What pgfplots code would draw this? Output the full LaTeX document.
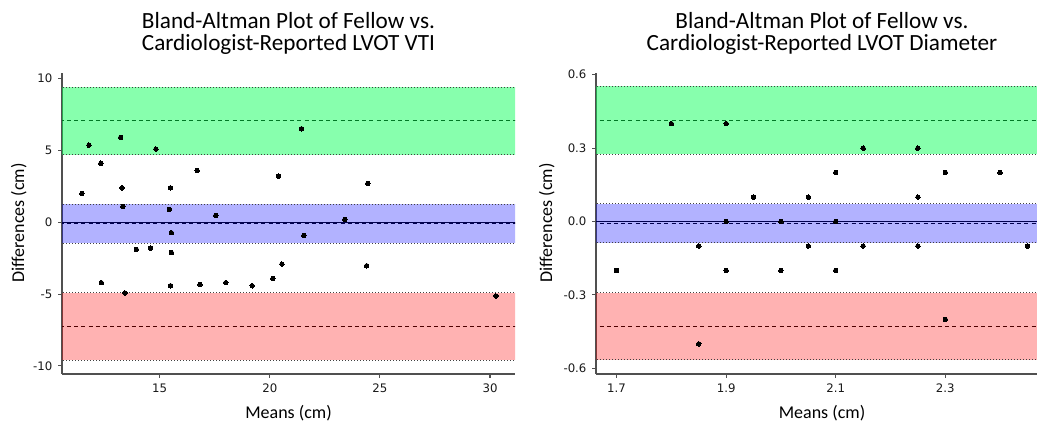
\documentclass[border=0pt]{standalone}
\usepackage{fontspec}
\setmainfont{Carlito}
\newfontfamily\dejavu{DejaVu Sans}
\usepackage{pgfplots}
\pgfplotsset{compat=1.18}
\usepackage{pgfplotstable}
\definecolor{bandgreen}{RGB}{0,255,80}
\definecolor{bandblue}{RGB}{0,0,255}
\definecolor{bandred}{RGB}{255,0,0}
\definecolor{spine}{RGB}{80,80,80}

\pgfplotstableread{
x y
11.47 2.00
11.79 5.36
12.33 4.10
12.35 -4.21
13.23 5.90
13.29 2.39
13.33 1.10
13.42 -4.92
13.94 -1.90
14.58 -1.81
14.83 5.09
15.49 2.39
15.44 0.89
15.53 -0.73
15.53 -2.11
15.49 -4.42
16.70 3.59
16.83 -4.33
17.55 0.48
18.00 -4.21
19.20 -4.42
20.14 -3.91
20.40 3.20
20.55 -2.91
21.44 6.50
21.55 -0.91
23.41 0.20
24.40 -3.03
24.45 2.69
30.27 -5.13
}\vtidata

\pgfplotstableread{
x y
1.70 -0.2
1.80 0.4
1.85 -0.1
1.85 -0.5
1.90 0.4
1.90 0.0
1.90 -0.2
1.95 0.1
2.00 0.0
2.00 -0.2
2.05 0.1
2.05 -0.1
2.10 0.2
2.10 0.0
2.10 -0.2
2.15 0.3
2.15 -0.1
2.25 0.3
2.25 0.1
2.25 -0.1
2.30 0.2
2.30 -0.4
2.40 0.2
2.45 -0.1
}\diamdata

\begin{document}
\begin{tikzpicture}[x=0.75pt,y=0.75pt]
\pgfplotsset{ba/.style={
  scale only axis,
  axis x line*=bottom, axis y line*=left,
  axis line style={line width=0.9pt, color=spine, -},
  tick style={line width=0.8pt, color=spine},
  major tick length=3pt, tick align=outside,
  ticklabel style={font=\dejavu\fontsize{8.8}{10}\selectfont, text=black!90},
  yticklabel style={inner sep=0pt, xshift=-4pt},
  xticklabel style={inner sep=0pt, yshift=-4pt},
  dline/.style={line width=0.75pt, black, dash pattern=on 3pt off 2.4pt},
  eline/.style={line width=0.75pt, black!75, dash pattern=on 0.75pt off 1.5pt},
}}

% ---------- left axis ----------
\begin{axis}[ba, at={(46.5pt,36.75pt)}, anchor=south west,
  width=339.75pt, height=225.75pt,
  xmin=10.565, xmax=31.135, ymin=-10.56, ymax=10.38,
  xtick={15,20,25,30}, xticklabels={15,20,25,30},
  ytick={-10,-5,0,5,10}, yticklabels={-10,-5,0,5,10}]
\addplot[line width=0.9pt, black] coordinates {(0,0) (40,0)};
\addplot[dline] coordinates {(0,7.05) (40,7.05)};
\addplot[dline] coordinates {(0,-0.10) (40,-0.10)};
\addplot[dline] coordinates {(0,-7.25) (40,-7.25)};
\addplot[only marks, mark=*, mark size=1.7pt, mark options={fill=black, draw=black, line width=0pt}] table {\vtidata};
\addplot[fill=bandgreen, fill opacity=0.47, draw=none] coordinates {(0,4.70) (40,4.70) (40,9.40) (0,9.40)};
\addplot[fill=bandblue, fill opacity=0.30, draw=none] coordinates {(0,-1.45) (40,-1.45) (40,1.25) (0,1.25)};
\addplot[fill=bandred, fill opacity=0.30, draw=none] coordinates {(0,-9.60) (40,-9.60) (40,-4.90) (0,-4.90)};
\addplot[eline] coordinates {(0,9.40) (40,9.40)};
\addplot[eline] coordinates {(0,4.70) (40,4.70)};
\addplot[eline] coordinates {(0,1.25) (40,1.25)};
\addplot[eline] coordinates {(0,-1.45) (40,-1.45)};
\addplot[eline] coordinates {(0,-4.90) (40,-4.90)};
\addplot[eline] coordinates {(0,-9.60) (40,-9.60)};
\end{axis}

% ---------- right axis ----------
\begin{axis}[ba, at={(447pt,36.75pt)}, anchor=south west,
  width=339pt, height=225.75pt,
  xmin=1.6625, xmax=2.4875, ymin=-0.623, ymax=0.607,
  xtick={1.7,1.9,2.1,2.3}, xticklabels={1.7,1.9,2.1,2.3},
  ytick={-0.6,-0.3,0,0.3,0.6}, yticklabels={-0.6,-0.3,0.0,0.3,0.6}]
\addplot[line width=0.9pt, black] coordinates {(0,0) (3,0)};
\addplot[dline] coordinates {(0,0.413) (3,0.413)};
\addplot[dline] coordinates {(0,-0.006) (3,-0.006)};
\addplot[dline] coordinates {(0,-0.427) (3,-0.427)};
\addplot[only marks, mark=*, mark size=1.7pt, mark options={fill=black, draw=black, line width=0pt}] table {\diamdata};
\addplot[fill=bandgreen, fill opacity=0.47, draw=none] coordinates {(0,0.275) (3,0.275) (3,0.552) (0,0.552)};
\addplot[fill=bandblue, fill opacity=0.30, draw=none] coordinates {(0,-0.087) (3,-0.087) (3,0.072) (0,0.072)};
\addplot[fill=bandred, fill opacity=0.30, draw=none] coordinates {(0,-0.565) (3,-0.565) (3,-0.290) (0,-0.290)};
\addplot[eline] coordinates {(0,0.552) (3,0.552)};
\addplot[eline] coordinates {(0,0.275) (3,0.275)};
\addplot[eline] coordinates {(0,0.072) (3,0.072)};
\addplot[eline] coordinates {(0,-0.087) (3,-0.087)};
\addplot[eline] coordinates {(0,-0.290) (3,-0.290)};
\addplot[eline] coordinates {(0,-0.565) (3,-0.565)};
\end{axis}

% ---------- titles and labels ----------
\begin{scope}[every node/.style={font=\fontsize{17.4}{20}\selectfont, anchor=base, inner sep=0pt}]
\node at (288.5,394.7) {Bland-Altman Plot of Fellow vs.};
\node at (288.5,372.3) {Cardiologist-Reported LVOT VTI};
\node at (822,394.7) {Bland-Altman Plot of Fellow vs.};
\node at (822,372.3) {Cardiologist-Reported LVOT Diameter};
\end{scope}
\begin{scope}[every node/.style={font=\fontsize{13.5}{16}\selectfont, anchor=base, inner sep=0pt}]
\node at (288.5,4) {Means (cm)};
\node at (822,4) {Means (cm)};
\node[rotate=90] at (24,200) {Differences (cm)};
\node[rotate=90] at (552,200) {Differences (cm)};
\end{scope}

\pgfresetboundingbox
\path[use as bounding box] (0,0) rectangle (1037,423);
\end{tikzpicture}
\end{document}
